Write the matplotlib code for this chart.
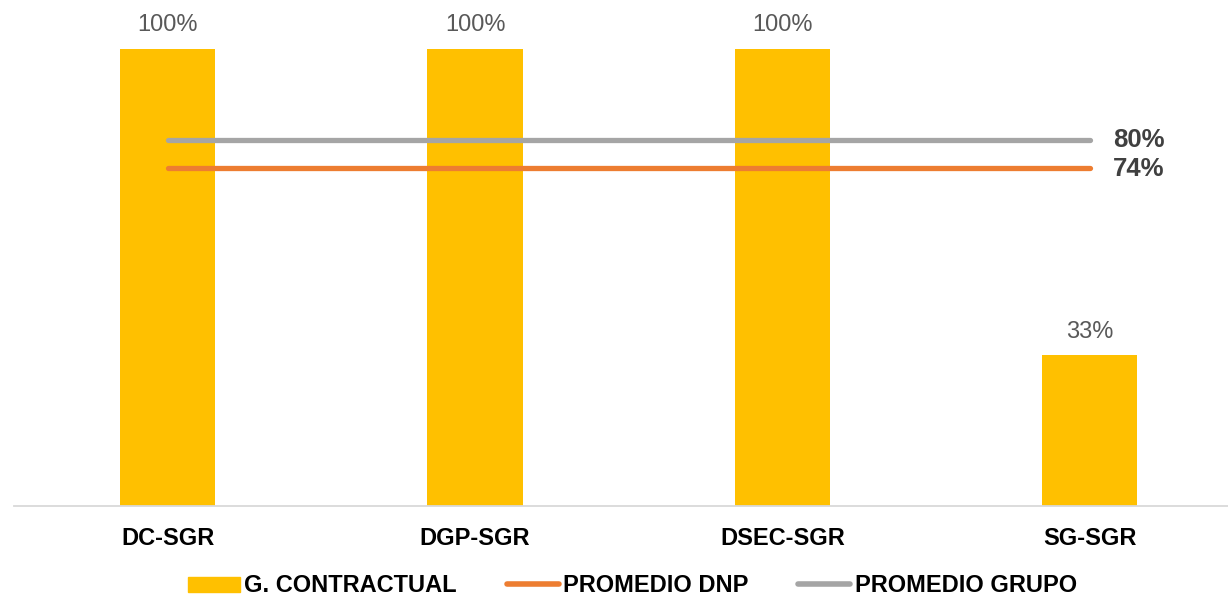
import matplotlib
matplotlib.use('Agg')
import matplotlib.pyplot as plt
from matplotlib.patches import Patch
from matplotlib.lines import Line2D

plt.rcParams['font.family'] = ['Liberation Sans', 'DejaVu Sans']

# datos
areas = ['DC-SGR', 'DGP-SGR', 'DSEC-SGR', 'SG-SGR']
contractual = [100, 100, 100, 33]
promedio_dnp = 74
promedio_grupo = 80

amarillo = '#FFC000'
naranja = '#ED7D31'
gris = '#A5A5A5'

fig = plt.figure(figsize=(12.28, 5.96), dpi=100)
ax = fig.add_axes([14 / 1228, 90 / 596, 1 - 14 / 1228, 506 / 596])

x = list(range(len(areas)))
barras = ax.bar(x, contractual, width=0.31, color=amarillo, zorder=2)
for b, v in zip(barras, contractual):
    ax.annotate(f'{v}%', (b.get_x() + b.get_width() / 2, v), xytext=(0, 9),
                textcoords='offset points', ha='center', va='bottom',
                fontsize=17, color='#595959')

ax.plot([x[0], x[-1]], [promedio_grupo] * 2, color=gris, lw=3.8,
        solid_capstyle='round', zorder=3)
ax.plot([x[0], x[-1]], [promedio_dnp] * 2, color=naranja, lw=3.8,
        solid_capstyle='round', zorder=3)
ax.annotate(f'{promedio_grupo}%', (x[-1], promedio_grupo), xytext=(17, 0),
            textcoords='offset points', va='center', ha='left',
            fontsize=18.5, fontweight='bold', color='#404040')
ax.annotate(f'{promedio_dnp}%', (x[-1], promedio_dnp), xytext=(17, -1),
            textcoords='offset points', va='center', ha='left',
            fontsize=18.5, fontweight='bold', color='#404040')

ax.set_xlim(-0.5, 3.45)
ax.set_ylim(0, 110.7)
ax.set_xticks(x)
ax.set_xticklabels(areas, fontsize=17, fontweight='bold', color='black')
ax.tick_params(axis='x', length=0, pad=15)
ax.set_yticks([])
for s in ['top', 'right', 'left']:
    ax.spines[s].set_visible(False)
ax.spines['bottom'].set_color('#D9D9D9')
ax.spines['bottom'].set_linewidth(1.3)

handles = [Patch(color=amarillo),
           Line2D([], [], color=naranja, lw=4, solid_capstyle='round'),
           Line2D([], [], color=gris, lw=4, solid_capstyle='round')]
etiquetas = ['G. CONTRACTUAL', 'PROMEDIO DNP', 'PROMEDIO GRUPO']
fig.legend(handles, etiquetas, loc='center', bbox_to_anchor=(0.515, 0.017),
           ncol=3, frameon=False, handlelength=2.2, handleheight=0.6,
           handletextpad=0.2, columnspacing=2.1,
           prop={'size': 17, 'weight': 'bold'})

fig.savefig('out.png', dpi=100)
